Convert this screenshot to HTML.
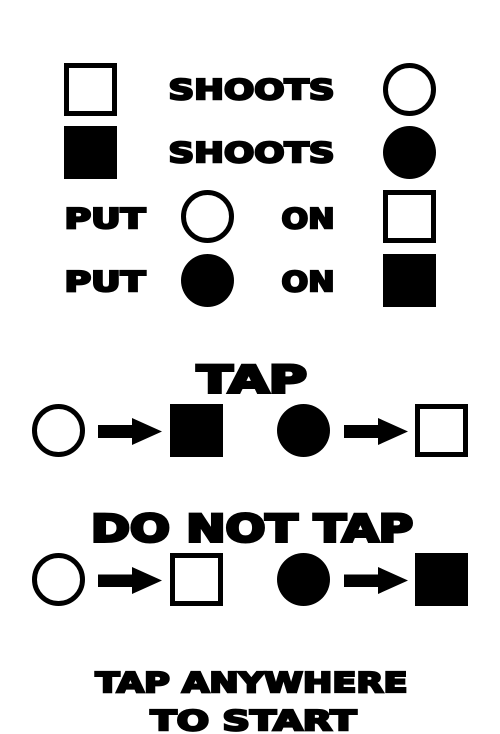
<!DOCTYPE html>
<html lang="en">
<head>
<meta charset="utf-8">
<title>Instructions</title>
<style>
html,body{margin:0;padding:0;background:#fff;width:500px;height:734px;overflow:hidden}
svg{display:block}
text{font-family:"DejaVu Sans","Liberation Sans",sans-serif;font-weight:bold;fill:#000;stroke:#000;stroke-linejoin:miter;stroke-miterlimit:8}
.s{font-size:27.2px;stroke-width:2.2}
.l{font-size:37px;stroke-width:3}
.o{fill:#fff;stroke:#000;stroke-width:5}
.f{fill:#000;stroke:none}
</style>
</head>
<body>
<svg width="500" height="734" viewBox="0 0 500 734">
  <g>
    <rect class="o" x="66.5" y="65.5" width="48" height="48"/>
    <text class="s" x="168.5" y="98.9" textLength="166" lengthAdjust="spacingAndGlyphs">SHOOTS</text>
    <circle class="o" cx="409.5" cy="89.5" r="24"/>
  </g>
  <g>
    <rect class="f" x="64" y="126" width="53" height="53"/>
    <text class="s" x="168.5" y="161.9" textLength="166" lengthAdjust="spacingAndGlyphs">SHOOTS</text>
    <circle class="f" cx="409.5" cy="152.5" r="26.5"/>
  </g>
  <g>
    <text class="s" x="64.5" y="227.9" textLength="81" lengthAdjust="spacingAndGlyphs">PUT</text>
    <circle class="o" cx="207.5" cy="216.5" r="24"/>
    <text class="s" x="281.5" y="227.9" textLength="53" lengthAdjust="spacingAndGlyphs">ON</text>
    <rect class="o" x="385.5" y="192.5" width="48" height="48"/>
  </g>
  <g>
    <text class="s" x="64.5" y="290.9" textLength="81" lengthAdjust="spacingAndGlyphs">PUT</text>
    <circle class="f" cx="207.5" cy="280.5" r="26.5"/>
    <text class="s" x="281.5" y="290.9" textLength="53" lengthAdjust="spacingAndGlyphs">ON</text>
    <rect class="f" x="383" y="254" width="53" height="53"/>
  </g>
  <g>
    <text class="l" x="197" y="392.5" textLength="110" lengthAdjust="spacingAndGlyphs">TAP</text>
    <circle class="o" cx="58.5" cy="430.5" r="24"/>
    <polygon class="f" points="98,425 132,425 132,418 162,431.5 132,445 132,438 98,438"/>
    <rect class="f" x="170" y="404" width="53" height="53"/>
    <circle class="f" cx="303.5" cy="430.5" r="26.5"/>
    <polygon class="f" points="344,425 378,425 378,418 408,431.5 378,445 378,438 344,438"/>
    <rect class="o" x="417.5" y="406.5" width="48" height="48"/>
  </g>
  <g>
    <text class="l" x="91" y="541.5" textLength="322" lengthAdjust="spacingAndGlyphs">DO NOT TAP</text>
    <circle class="o" cx="58.5" cy="579.5" r="24"/>
    <polygon class="f" points="98,574.5 132,574.5 132,567 162,580.5 132,594 132,587 98,587"/>
    <rect class="o" x="172.5" y="555.5" width="48" height="48"/>
    <circle class="f" cx="303.5" cy="579.5" r="26.5"/>
    <polygon class="f" points="344,574.5 378,574.5 378,567 408,580.5 378,594 378,587 344,587"/>
    <rect class="f" x="415" y="553" width="53" height="53"/>
  </g>
  <g>
    <text class="s" x="95.5" y="691.9" textLength="312" lengthAdjust="spacingAndGlyphs">TAP ANYWHERE</text>
    <text class="s" x="150.5" y="729.9" textLength="206" lengthAdjust="spacingAndGlyphs">TO START</text>
  </g>
</svg>
</body>
</html>
